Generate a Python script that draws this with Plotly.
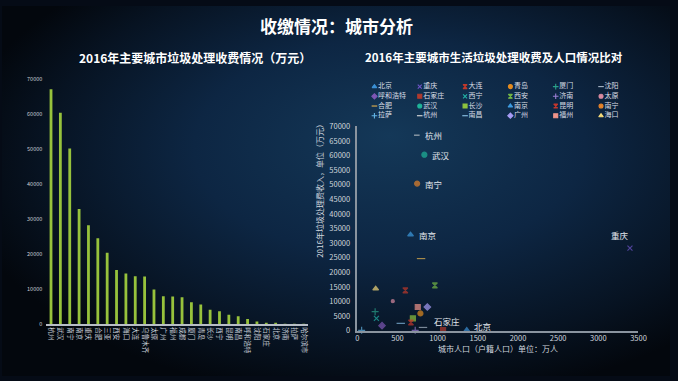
import base64
import plotly.graph_objects as go

# ---------------- data ----------------
bar_cities = ["杭州", "武汉", "南宁", "南京", "重庆", "合肥", "三亚", "西安", "海口", "大连",
              "乌鲁木齐", "太原", "广州", "福州", "成都", "厦门", "青岛", "长沙", "西宁", "昆明",
              "南昌", "呼和浩特", "沈阳", "石家庄", "北京", "济南", "拉萨", "哈尔滨市"]
bar_fees = [67000, 60300, 50100, 32900, 28200, 24500, 20400, 15500, 14500, 13700,
            13600, 9900, 8000, 7900, 7700, 6300, 5600, 4100, 3700, 2700,
            2300, 1500, 750, 200, 120, 100, 100, 80]

sc_cities = ["北京", "重庆", "大连", "青岛", "厦门", "沈阳",
             "呼和浩特", "石家庄", "西宁", "西安", "济南", "太原",
             "合肥", "武汉", "长沙", "南京", "昆明", "南宁",
             "拉萨", "杭州", "南昌", "广州", "福州", "海口"]
sc_pop = [1362, 3394, 597, 785, 221, 817,
          307, 1067, 237, 965, 720, 441,
          793, 834, 691, 662, 667, 744,
          53, 740, 540, 871, 752, 228]
sc_fee = [200, 28300, 13800, 5900, 6500, 1100,
          1700, 200, 4200, 15500, 100, 10100,
          24700, 60300, 4200, 32900, 2800, 50400,
          100, 67000, 2500, 8100, 8100, 14400]
sc_symbols = ["triangle-up", "x-thin", "hourglass", "circle", "cross-thin", "line-ew",
              "diamond", "square", "x-thin", "hourglass", "cross-thin", "circle",
              "line-ew", "circle", "square", "triangle-up", "hourglass", "circle",
              "cross-thin", "line-ew", "line-ew", "diamond", "square", "triangle-up"]
sc_colors = ["#3b8fd4", "#6f55c9", "#c0392b", "#e38b1f", "#2aa189", "#a9b8c8",
             "#7e57b5", "#b03a2e", "#22b3a8", "#74b845", "#9b7fd6", "#d98aa0",
             "#e8b64e", "#1fb59a", "#8dc33f", "#3d9be0", "#c4372d", "#e5832a",
             "#63b5e6", "#e0e0e0", "#8cc5ea", "#a79cf5", "#f1948a", "#f4d97a"]
sc_sizes = [5, 5, 5, 5, 5, 6, 5, 5, 5, 5, 5, 3, 6, 5, 5, 5, 5, 5, 5, 4, 6, 5, 5, 5]
labelled = {"杭州": (6, 0, "left"), "武汉": (6, 0, "left"), "南宁": (6, 0, "left"),
            "南京": (6, 0, "left"), "重庆": (-10, 13, "center"),
            "石家庄": (4, 9, "center"), "北京": (5, 4, "left")}

title_main = "收缴情况：城市分析"
title_left = "2016年主要城市垃圾处理收费情况（万元）"
title_right = "2016年主要城市生活垃圾处理收费及人口情况比对"
ytitle_right = "2016年垃圾处理费收入，单位（万元）"
xtitle_right = "城市人口（户籍人口）单位：万人"

W, H = 678, 381
FONT = "Noto Sans CJK SC"

def px_x(a, b):
    return [a / W, b / W]

def px_y(top, bottom):
    return [(H - bottom) / H, (H - top) / H]

# ---------------- background gradient ----------------
svg = f'''<svg xmlns="http://www.w3.org/2000/svg" width="{W}" height="{H}" viewBox="0 0 {W} {H}">
<defs>
<radialGradient id="g" cx="0.58" cy="0.42" r="0.65" fx="0.58" fy="0.35">
<stop offset="0" stop-color="#143858"/>
<stop offset="0.45" stop-color="#0d2643"/>
<stop offset="0.8" stop-color="#071322"/>
<stop offset="1" stop-color="#03070d"/>
</radialGradient>
</defs>
<rect width="{W}" height="{H}" fill="url(#g)"/>
</svg>'''
bg_src = "data:image/svg+xml;base64," + base64.b64encode(svg.encode()).decode()

fig = go.Figure()

# ---------------- left bar chart ----------------
fig.add_trace(go.Bar(
    x=bar_cities, y=bar_fees, marker=dict(color="#97c23c", line=dict(width=0)),
    xaxis="x", yaxis="y", showlegend=False, width=0.3))

# ---------------- right scatter ----------------
fig.add_trace(go.Scatter(
    x=sc_pop, y=sc_fee, mode="markers", xaxis="x2", yaxis="y2", showlegend=False,
    marker=dict(symbol=sc_symbols, color=sc_colors, size=sc_sizes,
                line=dict(color=sc_colors, width=1.2)),
    cliponaxis=False))

# ---------------- manual compact legend ----------------
leg_x = [i % 6 for i in range(len(sc_cities))]
leg_y = [i // 6 for i in range(len(sc_cities))]
fig.add_trace(go.Scatter(
    x=leg_x, y=leg_y, mode="markers+text", xaxis="x3", yaxis="y3", showlegend=False,
    text=sc_cities, textposition="middle right",
    textfont=dict(size=7, color="#d8dde5", family=FONT),
    marker=dict(symbol=sc_symbols, color=sc_colors, size=4,
                line=dict(color=sc_colors, width=1.1)),
    cliponaxis=False, hoverinfo="skip"))

annotations = [
    dict(text=f"<b>{title_main}</b>", x=0.5, y=1 - 20 / H, xref="paper", yref="paper",
         showarrow=False, font=dict(size=17, color="white", family=FONT),
         xanchor="center", yanchor="middle"),
    dict(text=f"<b>{title_left}</b>", x=196 / W, y=1 - 53 / H, xref="paper", yref="paper",
         showarrow=False, font=dict(size=12, color="white", family=FONT),
         xanchor="center", yanchor="middle"),
    dict(text=f"<b>{title_right}</b>", x=499 / W, y=1 - 53 / H, xref="paper", yref="paper",
         showarrow=False, font=dict(size=11.5, color="white", family=FONT),
         xanchor="center", yanchor="middle"),
    dict(text=ytitle_right, x=322 / W, y=1 - 188 / H, xref="paper", yref="paper",
         showarrow=False, textangle=-90, font=dict(size=8, color="#d0d6de", family=FONT),
         xanchor="center", yanchor="middle"),
]
for c, (dx, dy, anc) in labelled.items():
    i = sc_cities.index(c)
    annotations.append(dict(
        text=c, x=sc_pop[i], y=sc_fee[i], xref="x2", yref="y2", showarrow=False,
        xanchor=anc, yanchor="middle", xshift=dx, yshift=dy,
        font=dict(size=8.5, color="#e4e8ee", family=FONT)))

fig.update_layout(
    width=W, height=H, autosize=False,
    margin=dict(l=0, r=0, t=0, b=0),
    paper_bgcolor="#050b16", plot_bgcolor="rgba(0,0,0,0)",
    font=dict(family=FONT, color="#cfd5dd"),
    images=[dict(source=bg_src, xref="paper", yref="paper", x=0, y=1,
                 sizex=1, sizey=1, sizing="stretch", layer="below",
                 xanchor="left", yanchor="top")],
    bargap=0.7,
    xaxis=dict(domain=px_x(45, 311), anchor="y", type="category",
               tickangle=90, tickfont=dict(size=6.5, color="#c8ced6", family=FONT),
               showline=True, linecolor="#b8bec6", linewidth=1.5,
               showgrid=False, ticks="", zeroline=False, range=[-0.5, 27.5]),
    yaxis=dict(domain=px_y(75, 327.7), anchor="x", range=[0, 70000], dtick=10000,
               tickformat="d",
               showgrid=False, zeroline=False, showline=False, ticks="",
               tickfont=dict(size=5.5, color="#c8ced6"), ticklabelstandoff=3),
    xaxis2=dict(domain=px_x(360.7, 646), anchor="y2", range=[0, 3500], dtick=500,
                tickformat="d",
                showline=True, linecolor="#8a949f", linewidth=1.5, showgrid=False,
                zeroline=False, ticks="", tickfont=dict(size=7.5, color="#cfd5dd"),
                title=dict(text=xtitle_right, font=dict(size=8, color="#cfd5dd", family=FONT),
                           standoff=4)),
    yaxis2=dict(domain=px_y(124, 334.3), anchor="x2", range=[0, 70000], dtick=5000,
                tickformat="d",
                showline=True, linecolor="#8a949f", linewidth=1.5, showgrid=False,
                zeroline=False, ticks="", tickfont=dict(size=7.5, color="#cfd5dd"),
                ticklabelstandoff=4),
    xaxis3=dict(domain=px_x(378, 654), anchor="y3", range=[0, 6], visible=False,
                fixedrange=True),
    yaxis3=dict(domain=px_y(83, 113), anchor="x3", range=[3, 0], visible=False,
                fixedrange=True),
    annotations=annotations,
)

fig.write_html("out.html")
